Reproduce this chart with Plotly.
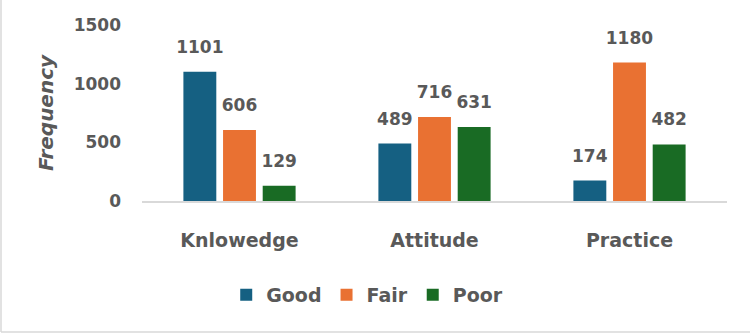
import plotly.graph_objects as go

categories = ["Knlowedge", "Attitude", "Practice"]
series_names = ["Good", "Fair", "Poor"]
good = [1101, 489, 174]
fair = [606, 716, 1180]
poor = [129, 631, 482]
y_ticks = [0, 500, 1000, 1500]

colors = ["#156082", "#E97132", "#196B24"]
TEXT = "#595959"
FONT = "DejaVu Sans"

W, H = 750, 335
ML, MR, MT, MB = 142, 23, 25, 134
YMAX = 1500
LABEL_PAD_PX = 12
pad = LABEL_PAD_PX * YMAX / (H - MT - MB)

fig = go.Figure()
for name, vals, col in zip(series_names, [good, fair, poor], colors):
    fig.add_trace(go.Bar(
        x=categories, y=vals, name=name, offsetgroup=name,
        marker=dict(color=col, line=dict(width=0)),
    ))
    fig.add_trace(go.Bar(
        x=categories, y=[v + pad for v in vals], offsetgroup=name,
        marker=dict(color="rgba(0,0,0,0)", line=dict(width=0)),
        text=[str(v) for v in vals], textposition="outside", constraintext="none",
        textfont=dict(family=FONT, size=17, color=TEXT, weight="bold"),
        cliponaxis=False, showlegend=False, hoverinfo="skip",
    ))

fig.update_layout(
    width=W, height=H,
    margin=dict(l=ML, r=MR, t=MT, b=MB),
    paper_bgcolor="white", plot_bgcolor="white",
    barmode="group", bargap=0.39, bargroupgap=0.17,
    font=dict(family=FONT, color=TEXT),
    showlegend=True,
    legend=dict(orientation="h", x=0.385, xanchor="center", y=-0.534, yanchor="middle",
                font=dict(family=FONT, size=19, color=TEXT, weight="bold"),
                itemwidth=30, traceorder="normal"),
    xaxis=dict(showgrid=False, showline=True, linecolor="#D9D9D9", linewidth=1.5,
               ticks="", ticklabelstandoff=21,
               tickfont=dict(family=FONT, size=19, color=TEXT, weight="bold")),
    yaxis=dict(range=[0, YMAX], tickvals=y_ticks, showgrid=False, showline=False,
               zeroline=False, ticks="", ticklabelstandoff=20,
               tickfont=dict(family=FONT, size=17, color=TEXT, weight="bold"),
               title=dict(text="Frequency", standoff=14,
                          font=dict(family=FONT, size=20, color=TEXT, weight="bold", style="italic"))),
    shapes=[
        dict(type="line", xref="paper", yref="paper",
             x0=(1 - ML) / (W - ML - MR), x1=(1 - ML) / (W - ML - MR),
             y0=(H - MB - 332) / (H - MT - MB), y1=(H - MB - 0) / (H - MT - MB),
             line=dict(color="#D9D9D9", width=1.5)),
        dict(type="line", xref="paper", yref="paper",
             x0=(1 - ML) / (W - ML - MR), x1=(W - ML) / (W - ML - MR),
             y0=(H - MB - 332) / (H - MT - MB), y1=(H - MB - 332) / (H - MT - MB),
             line=dict(color="#D9D9D9", width=1.5)),
    ],
)

fig.write_html("out.html")
